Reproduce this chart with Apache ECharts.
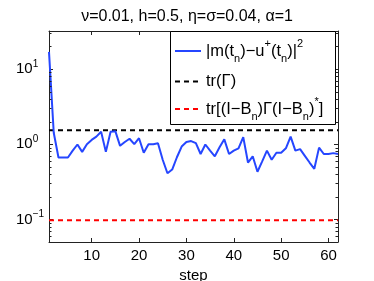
<!DOCTYPE html>
<html><head><meta charset="utf-8">
<script src="https://cdn.jsdelivr.net/npm/echarts@6/dist/echarts.min.js"></script>
<style>html,body{margin:0;padding:0;background:#fff}#c{width:374px;height:281px}</style>
</head><body><div id="c"></div>
<script>
const titleText = 'ν=0.01, h=0.5, η=σ=0.04, α=1';
const steps = [1,2,3,4,5,6,7,8,9,10,11,12,13,14,15,16,17,18,19,20,21,22,23,24,25,26,27,28,29,30,31,32,33,34,35,36,37,38,39,40,41,42,43,44,45,46,47,48,49,50,51,52,53,54,55,56,57,58,59,60,61,62];
const errorValues = [16.9,1.42,0.665,0.665,0.665,0.82,0.99,0.79,1.0,1.14,1.26,1.46,0.79,1.46,1.49,0.95,1.07,1.18,1.0,1.2,0.77,1.0,1.0,1.03,0.62,0.41,0.46,0.67,0.93,1.07,1.1,1.03,0.74,0.99,0.82,0.69,0.91,1.16,0.74,0.82,0.88,1.24,0.57,0.69,0.43,0.59,0.82,0.62,0.77,0.77,0.88,1.26,0.82,0.86,0.70,0.57,0.47,0.9,0.74,0.74,0.76,0.74];
const trGamma = 1.53;
const trB = 0.097;
const xTicks = [10,20,30,40,50,60];
const yMinorTicks = [0.06,0.07,0.08,0.09,0.2,0.3,0.4,0.5,0.6,0.7,0.8,0.9,2,3,4,5,6,7,8,9,20,30];

const FONT = 'Liberation Sans, Arial, sans-serif';
const AX = '#222';
const BLUE = '#2546ff';
const xMin = steps[0], xMax = steps[steps.length-1];
const yMin = 0.05, yMax = 32;

const chart = echarts.init(document.getElementById('c'), null, {renderer:'canvas'});

const richText = {
  m: {fontSize: 16.5, lineHeight: 26, fontFamily: FONT, color: '#000'},
  sb: {fontSize: 11, lineHeight: 16, verticalAlign: 'bottom', fontFamily: FONT, color: '#000'},
  sp: {fontSize: 11, lineHeight: 10, verticalAlign: 'top', fontFamily: FONT, color: '#000'}
};
const labelTexts = {
  err: '{m||m(t}{sb|n}{m|)−u}{sp|+}{m|(t}{sb|n}{m|)|}{sp|2}',
  trG: '{m|tr(Γ)}',
  trB: '{m|tr[(I−B}{sb|n}{m|)Γ(I−B}{sb|n}{m|)}{sp|*}{m|]}'
};
function mkLegend(name, top) {
  return {
    data: [name], left: 174, top: top, orient: 'vertical', z: 6,
    itemWidth: 26, itemHeight: 10, itemGap: 0, padding: 0,
    selectedMode: false,
    itemStyle: {opacity: 0},
    formatter: () => labelTexts[name],
    textStyle: {fontFamily: FONT, fontSize: 16.5, color: '#000', rich: richText}
  };
}
function logLabel(v) {
  const e = Math.round(Math.log10(v));
  return '{b|10}{s|' + (e < 0 ? '−' + (-e) : e) + '}';
}
const yLabel = {
  show: true, inside: false, margin: 33, align: 'left',
  showMinLabel: false, showMaxLabel: false,
  formatter: logLabel,
  rich: {
    b: {fontSize: 15, lineHeight: 20, fontFamily: FONT, color: '#000'},
    s: {fontSize: 10, lineHeight: 10, verticalAlign: 'top', fontFamily: FONT, color: '#000'}
  }
};
const axisLine = {show: true, onZero: false, lineStyle: {color: AX, width: 1}};
const tick = {show: true, inside: true, length: 4, lineStyle: {color: AX, width: 1}};

const option = {
  animation: false,
  backgroundColor: '#fff',
  title: {text: titleText, left: 'center', top: 4, textStyle: {fontFamily: FONT, fontSize: 16, fontWeight: 'normal', color: '#000'}},
  grid: {left: 49, top: 31, right: 36, bottom: 39, containLabel: false, outerBoundsMode: 'none'},
  legend: [mkLegend('err', 38), mkLegend('trG', 73), mkLegend('trB', 96)],
  xAxis: [
    {type: 'value', min: xMin, max: xMax, position: 'bottom',
     axisLine: axisLine, axisTick: Object.assign({customValues: xTicks}, tick),
     axisLabel: {customValues: xTicks, fontFamily: FONT, fontSize: 15, color: '#000', margin: 6},
     splitLine: {show: false},
     name: 'step', nameLocation: 'middle', nameGap: 21,
     nameTextStyle: {fontFamily: FONT, fontSize: 15, color: '#000'}},
    {type: 'value', min: xMin, max: xMax, position: 'top',
     axisLine: axisLine, axisTick: Object.assign({customValues: xTicks}, tick),
     axisLabel: {show: false}, splitLine: {show: false}}
  ],
  yAxis: [
    {type: 'log', logBase: 10, min: yMin, max: yMax, position: 'left',
     axisLine: axisLine, axisTick: tick, axisLabel: yLabel, splitLine: {show: false}},
    {type: 'log', logBase: 10, min: yMin, max: yMax, position: 'right',
     axisLine: axisLine, axisTick: tick, axisLabel: {show: false}, splitLine: {show: false}}
  ],
  graphic: [{
    type: 'rect', left: 170, top: 31, z: 1, silent: true,
    shape: {width: 165, height: 93},
    style: {fill: '#fff', stroke: '#000', lineWidth: 1}
  }],
  series: [
    {name: 'err', type: 'line', symbol: 'none', z: 3,
     data: steps.map((s, i) => [s, errorValues[i]]),
     lineStyle: {color: BLUE, width: 2}, itemStyle: {color: BLUE}},
    {name: 'trG', type: 'line', symbol: 'none', z: 2,
     data: [[xMin, trGamma], [xMax, trGamma]],
     lineStyle: {color: '#000', width: 2, type: [5, 4]}, itemStyle: {color: '#000'}},
    {name: 'trB', type: 'line', symbol: 'none', z: 2,
     data: [[xMin, trB], [xMax, trB]],
     lineStyle: {color: '#ff0000', width: 2, type: [5, 4]}, itemStyle: {color: '#ff0000'}},
    {name: 'minor', type: 'custom', silent: true, z: 4,
     data: yMinorTicks.map(v => [xMin, v]),
     renderItem: function (params, api) {
       const p = api.coord([api.value(0), api.value(1)]);
       const cs = params.coordSys;
       const y = Math.round(p[1]) + 0.5;
       return {type: 'group', children: [
         {type: 'line', shape: {x1: cs.x, y1: y, x2: cs.x + 2.5, y2: y}, style: {stroke: AX, lineWidth: 1}},
         {type: 'line', shape: {x1: cs.x + cs.width - 2.5, y1: y, x2: cs.x + cs.width, y2: y}, style: {stroke: AX, lineWidth: 1}}
       ]};
     }}
  ]
};
chart.setOption(option);
</script></body></html>
